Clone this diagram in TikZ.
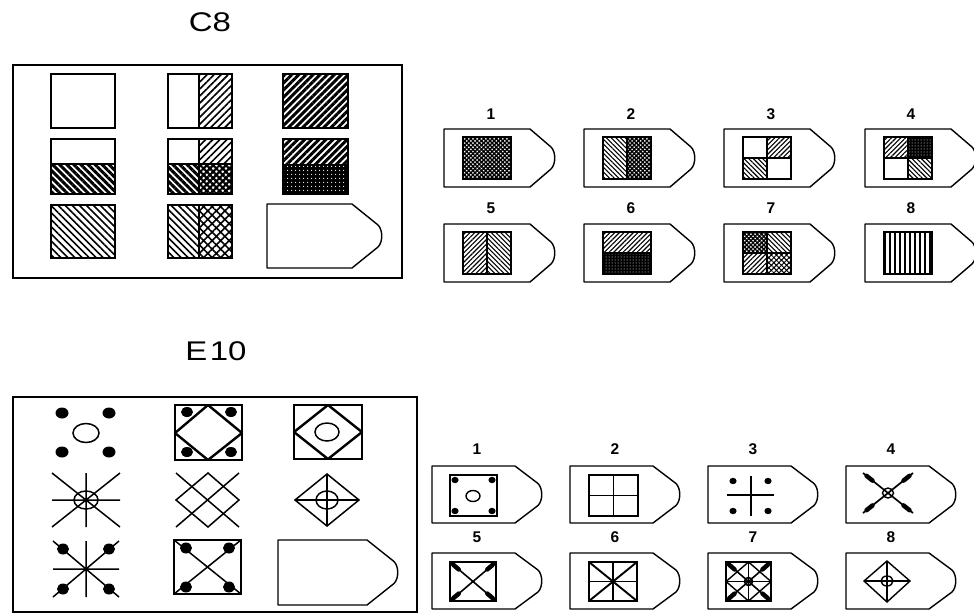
\documentclass[tikz,border=0pt]{standalone}
\usepackage{fontspec}
\setmainfont{Liberation Sans}
\usetikzlibrary{patterns.meta,calc}

\tikzset{
  frame/.style={line width=1.7pt},
  cell/.style={line width=1.6pt},
  ib/.style={line width=1.4pt},
  pentline/.style={line width=1.4pt, line join=round},
  eline/.style={line width=1.5pt},
  ebold/.style={line width=2.4pt, line join=round},
  blobline/.style={line width=4.5pt, line cap=round},
  pA/.style={pattern={Lines[angle=45,distance=5pt,line width=1.6pt]}},
  pB/.style={pattern={Lines[angle=-45,distance=5pt,line width=1.6pt]}},
  pAd/.style={pattern={Lines[angle=45,distance=5pt,line width=3pt]}},
  pBd/.style={pattern={Lines[angle=-45,distance=5pt,line width=3pt]}},
  pX/.style={pattern={Hatch[angle=45,distance=6pt,line width=1.6pt]}},
  pXd/.style={pattern={Hatch[angle=45,distance=4.5pt,line width=2.2pt]}},
  pDk/.style={preaction={fill=black}, pattern={Dots[distance=4pt,radius=0.7pt]}, pattern color=white},
  sA/.style={pattern={Lines[angle=45,distance=3.3pt,line width=1.1pt]}},
  sB/.style={pattern={Lines[angle=-45,distance=3.3pt,line width=1.1pt]}},
  sX/.style={pattern={Hatch[angle=45,distance=3.6pt,line width=1pt]}},
  sXd/.style={pattern={Hatch[angle=45,distance=3pt,line width=1.4pt]}},
  sDk/.style={preaction={fill=black}, pattern={Dots[distance=3pt,radius=0.5pt]}, pattern color=white},
  sV/.style={pattern={Lines[angle=90,distance=5pt,line width=1.1pt]}},
  ttl/.style={font=\fontsize{27}{27}\selectfont, xscale=1.22, inner sep=0pt},
  num/.style={font=\bfseries\fontsize{15.5}{15.5}\selectfont, inner sep=0pt},
}

% pentagon: left, top, shoulder, tip, bottom
\newcommand{\Pent}[5]{%
  \draw[pentline] (#1,#2) -- (#3,#2) -- ({#4-5},{(#2+#5)/2-11})
    .. controls ({#4},{(#2+#5)/2-6}) and ({#4},{(#2+#5)/2+6}) ..
    ({#4-5},{(#2+#5)/2+11}) -- (#3,#5) -- (#1,#5) -- cycle;}
\newcommand{\blobs}[2]{%
  \draw[blobline] ($#1!0.07!#2$) -- ($#1!0.19!#2$);
  \draw[blobline] ($#2!0.07!#1$) -- ($#2!0.19!#1$);}

\begin{document}
\begin{tikzpicture}[x=1pt,y=-1pt]
\useasboundingbox[fill=white] (0,0) rectangle (974,614);

% ================= C8 =================
\node[ttl] (tc8) at (210,22) {C8};
\draw[frame] (13,65) rectangle (402,278);

% row 1
\draw[cell] (51,74) rectangle (115,128);
\fill[pA] (199,74) rectangle (232,128);
\draw[cell] (168,74) rectangle (232,128);
\draw[cell] (199,74) -- (199,128);
\fill[pAd] (283,74) rectangle (348,128);
\draw[cell] (283,74) rectangle (348,128);
% row 2
\fill[pBd] (51,164) rectangle (115,194);
\draw[cell] (51,139) rectangle (115,194);
\draw[cell] (51,164) -- (115,164);
\fill[pA] (199,139) rectangle (232,164);
\fill[pBd] (168,164) rectangle (199,194);
\fill[pXd] (199,164) rectangle (232,194);
\draw[cell] (168,139) rectangle (232,194);
\draw[cell] (168,164) -- (232,164);
\draw[cell] (199,139) -- (199,194);
\fill[pAd] (283,139) rectangle (348,164);
\fill[pDk] (283,164) rectangle (348,194);
\draw[cell] (283,139) rectangle (348,194);
% row 3
\fill[pB] (51,205) rectangle (115,258);
\draw[cell] (51,205) rectangle (115,258);
\fill[pB] (168,205) rectangle (199,258);
\fill[pX] (199,205) rectangle (232,258);
\draw[cell] (168,205) rectangle (232,258);
\draw[cell] (199,205) -- (199,258);
\Pent{267}{204}{352}{383}{268}

% C8 options
\node[num] (cn1) at (491,114) {1};
\node[num] (cn2) at (631,114) {2};
\node[num] (cn3) at (771,114) {3};
\node[num] (cn4) at (911,114) {4};
\node[num] (cn5) at (491,208) {5};
\node[num] (cn6) at (631,208) {6};
\node[num] (cn7) at (771,208) {7};
\node[num] (cn8) at (911,208) {8};

% option 1
\begin{scope}[shift={(444,129)}]
  \Pent{0}{0}{86}{112}{58}
  \fill[sXd] (19,8) rectangle (67,50);
  \draw[ib] (19,8) rectangle (67,50);
\end{scope}
% option 2
\begin{scope}[shift={(584,129)}]
  \Pent{0}{0}{86}{112}{58}
  \fill[sB] (19,8) rectangle (43,50);
  \fill[sXd] (43,8) rectangle (67,50);
  \draw[ib] (19,8) rectangle (67,50);
  \draw[ib] (43,8) -- (43,50);
\end{scope}
% option 3
\begin{scope}[shift={(724,129)}]
  \Pent{0}{0}{86}{112}{58}
  \fill[sA] (43,8) rectangle (67,29);
  \fill[sB] (19,29) rectangle (43,50);
  \draw[ib] (19,8) rectangle (67,50);
  \draw[ib] (43,8) -- (43,50) (19,29) -- (67,29);
\end{scope}
% option 4
\begin{scope}[shift={(865,129)}]
  \Pent{0}{0}{86}{112}{58}
  \fill[sA] (19,8) rectangle (43,29);
  \fill[sDk] (43,8) rectangle (67,29);
  \fill[sB] (43,29) rectangle (67,50);
  \draw[ib] (19,8) rectangle (67,50);
  \draw[ib] (43,8) -- (43,50) (19,29) -- (67,29);
\end{scope}
% option 5
\begin{scope}[shift={(444,224)}]
  \Pent{0}{0}{86}{112}{58}
  \fill[sA] (19,8) rectangle (43,50);
  \fill[sB] (43,8) rectangle (67,50);
  \draw[ib] (19,8) rectangle (67,50);
  \draw[ib] (43,8) -- (43,50);
\end{scope}
% option 6
\begin{scope}[shift={(584,224)}]
  \Pent{0}{0}{86}{112}{58}
  \fill[sA] (19,8) rectangle (67,29);
  \fill[sDk] (19,29) rectangle (67,50);
  \draw[ib] (19,8) rectangle (67,50);
  \draw[ib] (19,29) -- (67,29);
\end{scope}
% option 7
\begin{scope}[shift={(724,224)}]
  \Pent{0}{0}{86}{112}{58}
  \fill[sXd] (19,8) rectangle (43,29);
  \fill[sB] (43,8) rectangle (67,29);
  \fill[sA] (19,29) rectangle (43,50);
  \fill[sX] (43,29) rectangle (67,50);
  \draw[ib] (19,8) rectangle (67,50);
  \draw[ib] (43,8) -- (43,50) (19,29) -- (67,29);
\end{scope}
% option 8
\begin{scope}[shift={(865,224)}]
  \Pent{0}{0}{86}{112}{58}
  \fill[sV] (19,8) rectangle (67,50);
  \draw[ib] (19,8) rectangle (67,50);
\end{scope}

% ================= E10 =================
\node[ttl] (te10) at (216,351) {E\kern2pt10};
\draw[frame] (13,397) rectangle (417,612);

% row 1
\foreach \p in {(62,413),(109,413),(62,452),(109,452)} \fill \p ellipse (6.5 and 5.5);
\draw[eline] (86,433) ellipse (13 and 9.5);

\draw[line width=1.7pt] (175,405) rectangle (242,460);
\draw[ebold] (208,405) -- (242,433) -- (208,460) -- (175,433) -- cycle;
\foreach \p in {(187,412),(231,412),(187,452),(231,452)} \fill \p ellipse (6 and 5);

\draw[line width=1.7pt] (294,405) rectangle (362,459);
\draw[ebold] (328,405) -- (362,432) -- (328,459) -- (294,432) -- cycle;
\draw[eline] (327,432) ellipse (12 and 9);

% row 2
\draw[eline] (52,500) -- (120,500) (86,473) -- (86,527)
  (52,473) -- (120,527) (120,473) -- (52,527);
\draw[eline] (86,500) ellipse (12 and 9);

\draw[eline] (208,473) -- (239,500) -- (208,527) -- (176,500) -- cycle;
\draw[eline] (176,473) -- (239,527) (239,473) -- (176,527);

\draw[eline] (327,474) -- (359,500) -- (327,526) -- (295,500) -- cycle;
\draw[eline] (295,500) -- (359,500) (327,474) -- (327,526);
\draw[eline] (327,500) ellipse (11 and 9);

% row 3
\draw[eline] (53,569) -- (119,569) (86,541) -- (86,597)
  (53,541) -- (119,597) (119,541) -- (53,597);
\foreach \p in {(63,549),(109,549),(63,589),(109,589)} \fill \p ellipse (6 and 5.5);

\draw[line width=1.7pt] (174,540) rectangle (241,594);
\draw[eline] (174,540) -- (241,594) (241,540) -- (174,594);
\foreach \p in {(186,548),(229,548),(186,587),(229,587)} \fill \p ellipse (6 and 5.5);

\Pent{278}{540}{367}{399}{605}

% E10 options
\node[num] (en1) at (477,449) {1};
\node[num] (en2) at (615,449) {2};
\node[num] (en3) at (753,449) {3};
\node[num] (en4) at (891,449) {4};
\node[num] (en5) at (477,537) {5};
\node[num] (en6) at (615,537) {6};
\node[num] (en7) at (753,537) {7};
\node[num] (en8) at (891,537) {8};

% option 1
\begin{scope}[shift={(432,466)}]
  \Pent{0}{0}{83}{111}{57}
  \draw[line width=1.6pt] (18,9) rectangle (65,50);
  \foreach \p in {(23,14),(60,14),(23,45),(60,45)} \fill \p ellipse (3.6 and 3.2);
  \draw[ib] (41,30) ellipse (7 and 5.5);
\end{scope}
% option 2
\begin{scope}[shift={(570,466)}]
  \Pent{0}{0}{83}{111}{57}
  \draw[line width=1.6pt] (19,9) rectangle (68,50);
  \draw[ib] (43.5,9) -- (43.5,50) (19,29.5) -- (68,29.5);
\end{scope}
% option 3
\begin{scope}[shift={(708,466)}]
  \Pent{0}{0}{83}{111}{57}
  \foreach \p in {(25,15),(60,15),(25,45),(60,45)} \fill \p ellipse (3.6 and 3.2);
  \draw[ib] (19,29) -- (66,29) (43,10) -- (43,50);
\end{scope}
% option 4
\begin{scope}[shift={(846,466)}]
  \Pent{0}{0}{83}{111}{57}
  \draw[line width=1.7pt] (17,7) -- (67,47) (67,7) -- (17,47);
  \blobs{(17,7)}{(67,47)}
  \blobs{(67,7)}{(17,47)}
  \draw[ib] (42,27) ellipse (5.5 and 5);
\end{scope}
% option 5
\begin{scope}[shift={(432,553)}]
  \Pent{0}{0}{83}{111}{56}
  \draw[line width=1.6pt] (18,9) rectangle (64,48);
  \draw[line width=1.6pt] (18,9) -- (64,48) (64,9) -- (18,48);
  \blobs{(18,9)}{(64,48)}
  \blobs{(64,9)}{(18,48)}
\end{scope}
% option 6
\begin{scope}[shift={(570,553)}]
  \Pent{0}{0}{83}{111}{56}
  \draw[line width=1.7pt] (19,9) rectangle (67,48);
  \draw[line width=1.9pt] (19,9) -- (67,48) (67,9) -- (19,48);
  \draw[ib] (43,9) -- (43,48) (19,28.5) -- (67,28.5);
\end{scope}
% option 7
\begin{scope}[shift={(708,553)}]
  \Pent{0}{0}{83}{111}{56}
  \draw[line width=1.7pt] (18,9) rectangle (63,48);
  \draw[line width=1.6pt] (18,9) -- (63,48) (63,9) -- (18,48);
  \draw[ib] (40.5,9) -- (40.5,48) (18,28.5) -- (63,28.5);
  \draw[ib] (40.5,9) -- (63,28.5) -- (40.5,48) -- (18,28.5) -- cycle;
  \draw[line width=1.6pt] (40.5,28.5) circle (4);
  \blobs{(18,9)}{(63,48)}
  \blobs{(63,9)}{(18,48)}
\end{scope}
% option 8
\begin{scope}[shift={(846,553)}]
  \Pent{0}{0}{83}{111}{56}
  \draw[ib] (18,28) -- (41,8) -- (64,28) -- (41,49) -- cycle;
  \draw[ib] (18,28) -- (64,28) (41,8) -- (41,49);
  \draw[ib] (41,28) ellipse (6 and 5);
\end{scope}

\end{tikzpicture}
\end{document}
